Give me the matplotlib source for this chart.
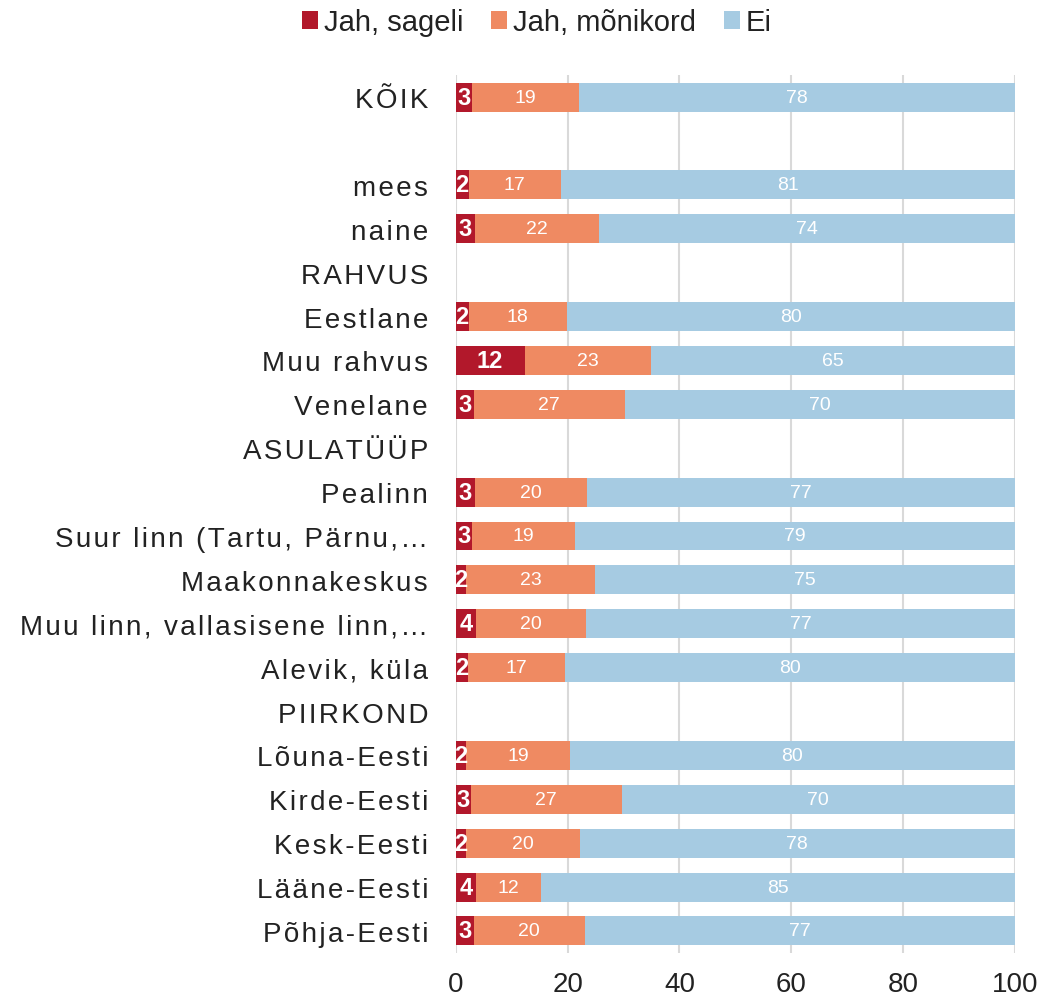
import numpy as np
import matplotlib.pyplot as plt

plt.rcParams['font.family'] = ['Liberation Sans', 'DejaVu Sans']

categories = ['KÕIK', '', 'mees', 'naine', 'RAHVUS', 'Eestlane', 'Muu rahvus',
              'Venelane', 'ASULATÜÜP', 'Pealinn', 'Suur linn (Tartu, Pärnu,…',
              'Maakonnakeskus', 'Muu linn, vallasisene linn,…', 'Alevik, küla',
              'PIIRKOND', 'Lõuna-Eesti', 'Kirde-Eesti', 'Kesk-Eesti',
              'Lääne-Eesti', 'Põhja-Eesti']

# bar lengths (None = header row without a bar)
sageli = [2.9, None, 2.3, 3.4, None, 2.3, 12.3, 3.2, None, 3.4, 2.9, 1.8, 3.6, 2.1,
          None, 1.8, 2.7, 1.8, 3.6, 3.2]
monikord = [19.1, None, 16.5, 22.2, None, 17.6, 22.6, 27.0, None, 20.0, 18.4, 23.1,
            19.7, 17.4, None, 18.6, 27.0, 20.4, 11.6, 19.9]
ei = [78.0, None, 81.2, 74.4, None, 80.1, 65.1, 69.8, None, 76.6, 78.7, 75.1, 76.7,
      80.5, None, 79.6, 70.3, 77.8, 84.8, 76.9]

# labels as printed
lab_sageli = ['3', '', '2', '3', '', '2', '12', '3', '', '3', '3', '2', '4', '2',
              '', '2', '3', '2', '4', '3']
lab_monikord = ['19', '', '17', '22', '', '18', '23', '27', '', '20', '19', '23', '20',
                '17', '', '19', '27', '20', '12', '20']
lab_ei = ['78', '', '81', '74', '', '80', '65', '70', '', '77', '79', '75', '77', '80',
          '', '80', '70', '78', '85', '77']

series_names = ['Jah, sageli', 'Jah, mõnikord', 'Ei']
colors = ['#b2182b', '#ef8a62', '#a6cbe2']


def spaced(txt):
    # wide letter spacing like in the original
    return '\u200a'.join(txt)


fig = plt.figure(figsize=(10.43, 10.03), dpi=100)
ax = fig.add_axes([0.437, 0.049, 0.536, 0.875])

y = np.arange(len(categories))
s = np.array([v if v is not None else 0 for v in sageli])
m = np.array([v if v is not None else 0 for v in monikord])
e = np.array([v if v is not None else 0 for v in ei])

h = 0.66
b1 = ax.barh(y, s, height=h, color=colors[0], label=series_names[0], zorder=3)
b2 = ax.barh(y, m, left=s, height=h, color=colors[1], label=series_names[1], zorder=3)
b3 = ax.barh(y, e, left=s + m, height=h, color=colors[2], label=series_names[2], zorder=3)

for i in range(len(categories)):
    if sageli[i] is None:
        continue
    ax.text(s[i] / 2, y[i], lab_sageli[i], ha='center', va='center',
            color='white', fontsize=17, fontweight='bold', zorder=4)
    ax.text(s[i] + m[i] / 2, y[i], lab_monikord[i], ha='center', va='center',
            color='white', fontsize=14, zorder=4)
    ax.text(s[i] + m[i] + e[i] / 2, y[i], lab_ei[i], ha='center', va='center',
            color='white', fontsize=14, zorder=4)

ax.set_xlim(0, 100)
ax.set_ylim(len(categories) - 0.5, -0.5)
ax.set_xticks([0, 20, 40, 60, 80, 100])
ax.tick_params(axis='x', labelsize=20, length=0, pad=13, colors='#222222')
ax.set_yticks(y)
ax.set_yticklabels([spaced(c) for c in categories], fontsize=20, color='#222222')
ax.tick_params(axis='y', length=0, pad=20)
ax.grid(axis='x', color='#d9d9d9', linewidth=1.5, zorder=0)
for sp in ax.spines.values():
    sp.set_visible(False)

fig.legend(handles=[b1, b2, b3], labels=series_names, loc='upper center',
           bbox_to_anchor=(0.515, 1.017), ncol=3, frameon=False, fontsize=21,
           handlelength=0.55, handleheight=0.55, handletextpad=0.2, columnspacing=0.95,
           labelcolor='#222222')

fig.savefig('out.png', dpi=100)
